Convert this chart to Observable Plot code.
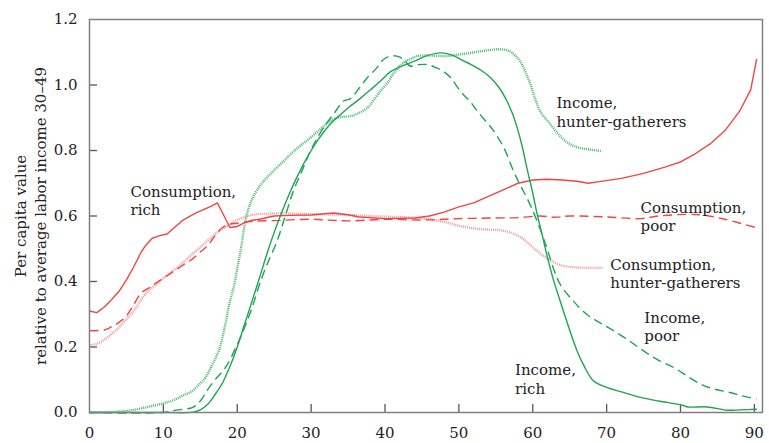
<!DOCTYPE html>
<html>
<head>
<meta charset="utf-8">
<script src="https://cdn.jsdelivr.net/npm/d3@7"></script>
<script src="https://cdn.jsdelivr.net/npm/@observablehq/plot@0.6"></script>
<style>
  html, body { margin: 0; padding: 0; background: #fff; }
  #chart svg { display: block; }
</style>
</head>
<body>
<div id="chart"></div>
<script>
// Ages (x) and per-capita values (y)
const consRich = [[0,0.31],[1,0.305],[2,0.322],[3,0.345],[4,0.37],[5,0.405],[6,0.445],[7,0.49],[7.6,0.51],[8.5,0.532],[9.5,0.54],[10.5,0.545],[11.5,0.565],[12.5,0.585],[13.5,0.598],[14.5,0.61],[15.5,0.62],[16.5,0.63],[17.3,0.64],[18,0.61],[19,0.565],[20,0.568],[21,0.58],[22,0.587],[23,0.59],[25,0.6],[27,0.602],[30,0.603],[33,0.609],[35,0.604],[36.5,0.597],[40,0.592],[44,0.594],[46,0.6],[48,0.612],[50,0.628],[52,0.64],[54,0.66],[56,0.68],[58,0.7],[60,0.71],[62,0.712],[64,0.71],[66,0.706],[67.5,0.7],[69,0.705],[72,0.715],[75,0.73],[78,0.75],[80,0.765],[82,0.79],[84,0.82],[86,0.86],[88,0.92],[89.5,0.985],[90.3,1.078]];
const consPoor = [[0,0.25],[2,0.252],[3,0.262],[4,0.275],[5,0.295],[6,0.33],[7,0.365],[8,0.38],[9,0.395],[10,0.41],[11,0.425],[12,0.44],[13,0.455],[14,0.47],[15,0.49],[16,0.51],[17,0.54],[18,0.565],[19,0.575],[20,0.578],[22,0.584],[25,0.586],[30,0.59],[35,0.585],[40,0.59],[45,0.588],[50,0.592],[55,0.594],[58,0.595],[61,0.6],[63,0.596],[65,0.6],[70,0.597],[74.6,0.592],[77,0.6],[81,0.605],[83,0.603],[86,0.59],[90.3,0.564]];
const consHG = [[0,0.205],[1,0.21],[2,0.222],[3,0.24],[4,0.26],[5,0.285],[6,0.31],[7,0.345],[8,0.372],[9,0.39],[10,0.41],[11,0.428],[12,0.445],[13,0.465],[14,0.485],[15,0.505],[16,0.525],[17,0.545],[18,0.56],[19,0.575],[20,0.588],[22,0.603],[24,0.607],[26,0.608],[30,0.606],[35,0.603],[40,0.598],[44,0.595],[46,0.59],[48.4,0.58],[50,0.57],[52.9,0.56],[56,0.555],[58,0.54],[59.5,0.515],[60.6,0.493],[62,0.47],[63.5,0.452],[65,0.445],[67,0.442],[69.5,0.442]];
const incRich = [[0,0],[10,0],[14,0.001],[15,0.008],[16,0.025],[17,0.055],[18,0.09],[19,0.14],[20,0.2],[21,0.27],[22,0.34],[23,0.41],[24,0.483],[25,0.55],[26,0.61],[27,0.665],[28,0.715],[29,0.76],[30,0.8],[31,0.835],[32,0.865],[33,0.89],[34,0.91],[35,0.93],[36.7,0.96],[38,0.985],[39.4,1.012],[40.7,1.04],[42,1.055],[43.9,1.072],[45.5,1.088],[47.5,1.098],[49,1.092],[50.5,1.075],[51.6,1.063],[53,1.045],[54.3,1.022],[55.5,0.99],[56.5,0.951],[57.3,0.91],[57.9,0.869],[58.6,0.81],[59.2,0.747],[60,0.67],[60.6,0.605],[61.3,0.54],[62,0.473],[62.8,0.405],[63.7,0.341],[64.8,0.265],[66,0.188],[67,0.14],[68.2,0.097],[70.1,0.076],[72,0.063],[74.6,0.046],[77,0.035],[80,0.024],[81,0.017],[83.6,0.017],[86.3,0.007],[88,0.008],[90.3,0.01]];
const incPoor = [[0,0],[9.8,0],[12,0.008],[14,0.016],[15,0.035],[16,0.07],[17,0.1],[18.4,0.137],[19.8,0.198],[21,0.26],[22,0.32],[23,0.39],[24,0.45],[25.4,0.524],[26.5,0.6],[27.6,0.676],[28.8,0.74],[29.9,0.798],[31,0.845],[32,0.88],[33,0.91],[34.4,0.951],[35.3,0.958],[36.5,0.99],[37.6,1.022],[38.8,1.05],[39.8,1.078],[40.7,1.088],[41.6,1.088],[42.5,1.078],[43.4,1.058],[44.5,1.062],[45.8,1.062],[47,1.052],[48,1.04],[48.9,1.022],[50.2,0.981],[51.5,0.95],[52.5,0.92],[54,0.88],[54.7,0.86],[56.1,0.808],[57.4,0.737],[58.4,0.69],[59.2,0.656],[60.4,0.595],[61.9,0.503],[62.8,0.44],[63.7,0.392],[65.5,0.34],[67.3,0.3],[69,0.275],[71,0.249],[73,0.22],[75,0.188],[77,0.16],[79.1,0.137],[81,0.11],[82.7,0.087],[84.5,0.072],[86.7,0.061],[88.5,0.05],[90.3,0.041]];
const incHG = [[0,0],[2,0.001],[4,0.003],[6,0.008],[8.5,0.02],[10,0.028],[11.2,0.036],[12.5,0.05],[13.9,0.066],[14.8,0.085],[15.7,0.107],[16.6,0.145],[17.5,0.188],[18.3,0.26],[18.9,0.33],[19.5,0.381],[20,0.44],[20.5,0.5],[21.3,0.605],[22.3,0.665],[23.6,0.707],[25,0.74],[26.3,0.768],[28,0.805],[29.9,0.839],[31.5,0.87],[33,0.895],[34,0.902],[35.3,0.905],[36.5,0.915],[37.6,0.93],[38.5,0.955],[39.5,0.985],[40.3,1.005],[41.3,1.04],[42.5,1.068],[43.5,1.08],[44.3,1.088],[46,1.09],[48.4,1.088],[50,1.093],[51.6,1.098],[53.5,1.105],[55.6,1.109],[56.9,1.103],[57.6,1.09],[58.3,1.073],[59,1.04],[59.7,1.002],[60.3,0.96],[61,0.92],[62.4,0.88],[63.7,0.844],[65,0.82],[66.4,0.808],[68,0.802],[69.4,0.798]];

const xTicks = [0, 10, 20, 30, 40, 50, 60, 70, 80, 90];
const yTicks = [0, 0.2, 0.4, 0.6, 0.8, 1.0, 1.2];
const yLabel = "Per capita value\nrelative to average labor income 30–49";

const labels = [
  {x: 5.55, y: 0.649, text: "Consumption,\nrich"},
  {x: 63.2, y: 0.92, text: "Income,\nhunter-gatherers"},
  {x: 74.6, y: 0.6, text: "Consumption,\npoor"},
  {x: 70.5, y: 0.426, text: "Consumption,\nhunter-gatherers"},
  {x: 75.1, y: 0.264, text: "Income,\npoor"},
  {x: 57.6, y: 0.103, text: "Income,\nrich"}
];

const RED = "#ef4545", GREEN = "#1ea453", PINK = "#f29a9a", LGREEN = "#4cb86e";
const W = 769, H = 443, ML = 89, MR = 7, MT = 19, MB = 31;
const PW = W - ML - MR, PH = H - MT - MB, TICK = 8;
const px = d => d[0], py = d => d[1];

const chart = Plot.plot({
  width: W, height: H,
  marginLeft: ML, marginRight: MR, marginTop: MT, marginBottom: MB,
  x: {domain: [0, 91.1], label: null},
  y: {domain: [0, 1.2], label: null},
  style: {fontFamily: "DejaVu Serif", fontSize: "15px", color: "#222", background: "#fff"},
  marks: [
    Plot.axisX(xTicks, {tickSize: 0, tickPadding: 15, tickFormat: d => String(d), fontSize: 15, fill: "#222", label: null}),
    Plot.axisY(yTicks, {tickSize: 0, tickPadding: 12, tickFormat: d => d.toFixed(1), fontSize: 15, fill: "#222", label: null}),
    Plot.ruleX(xTicks.slice(1), {x: d => d, insetTop: PH - TICK, stroke: "#555", strokeWidth: 1.3}),
    Plot.ruleY(yTicks.slice(1, -1), {y: d => d, insetRight: PW - TICK, stroke: "#555", strokeWidth: 1.3}),
    Plot.line(consHG, {x: px, y: py, stroke: PINK, strokeWidth: 2.4, strokeDasharray: "1,1", strokeLinecap: "butt", curve: "catmull-rom"}),
    Plot.line(incHG, {x: px, y: py, stroke: LGREEN, strokeWidth: 2.4, strokeDasharray: "1,1", strokeLinecap: "butt", curve: "catmull-rom"}),
    Plot.line(consPoor, {x: px, y: py, stroke: RED, strokeWidth: 1.4, strokeDasharray: "9,5", strokeLinecap: "butt", curve: "catmull-rom"}),
    Plot.line(incPoor, {x: px, y: py, stroke: GREEN, strokeWidth: 1.4, strokeDasharray: "9,5", strokeLinecap: "butt", curve: "catmull-rom"}),
    Plot.line(consRich, {x: px, y: py, stroke: RED, strokeWidth: 1.4}),
    Plot.line(incRich, {x: px, y: py, stroke: GREEN, strokeWidth: 1.4, curve: "catmull-rom"}),
    Plot.text(labels, {x: "x", y: "y", text: "text", textAnchor: "start", lineAnchor: "middle", lineHeight: 1.25, fontSize: 15, fill: "#222"}),
    Plot.text([yLabel], {text: d => d, frameAnchor: "left", textAnchor: "middle", rotate: -90, dx: -60, lineAnchor: "middle", lineHeight: 1.33, fontSize: 15, fill: "#222"}),
    Plot.frame({stroke: "#808080", strokeWidth: 1.5})
  ]
});
document.getElementById("chart").appendChild(chart);
</script>
</body>
</html>
